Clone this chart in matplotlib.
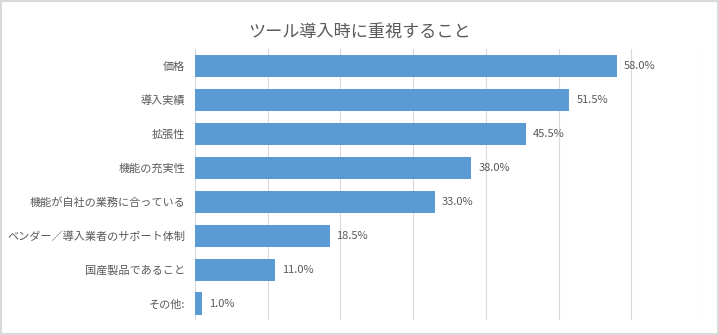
import matplotlib.pyplot as plt
from matplotlib.patches import Rectangle

plt.rcParams['font.family'] = ['Noto Sans CJK JP', 'DejaVu Sans']

title = "ツール導入時に重視すること"
categories = ["価格", "導入実績", "拡張性", "機能の充実性", "機能が自社の業務に合っている",
              "ベンダー／導入業者のサポート体制", "国産製品であること", "その他:"]
values = [58.0, 51.5, 45.5, 38.0, 33.0, 18.5, 11.0, 1.0]
xticks = [0, 10, 20, 30, 40, 50, 60, 70]

text_color = "#595959"
bar_color = "#5B9BD5"
grid_color = "#D9D9D9"

fig = plt.figure(figsize=(7.19, 3.35), dpi=100)
ax = fig.add_axes([0.2712, 0.0433, 0.7079, 0.8104])

# bars, top category first
y = list(range(len(categories)))
ax.barh(y, values, height=0.65, color=bar_color, zorder=2)
ax.set_ylim(len(categories) - 0.5, -0.5)
ax.set_xlim(0, 70)

ax.set_xticks(xticks)
ax.set_xticklabels([])
ax.tick_params(axis='x', length=0)
ax.tick_params(axis='y', length=0, pad=7)
ax.set_yticks(y)
ax.set_yticklabels(categories, fontsize=8, color=text_color)
ax.grid(axis='x', color=grid_color, linewidth=0.8, zorder=0)

for side in ax.spines.values():
    side.set_visible(False)

# value labels
for yi, v in zip(y, values):
    ax.annotate(f"{v:.1f}%", (v, yi), xytext=(5, 0), textcoords='offset points',
                va='center', ha='left', fontsize=8, color=text_color)

fig.text(0.5, 0.905, title, ha='center', va='center', fontsize=12.3, color=text_color)

# outer chart frame
fig.patches.append(Rectangle((0.002, 0.004), 0.996, 0.992, transform=fig.transFigure,
                             fill=False, edgecolor=grid_color, linewidth=1.5))

fig.savefig("out.png", dpi=100)
